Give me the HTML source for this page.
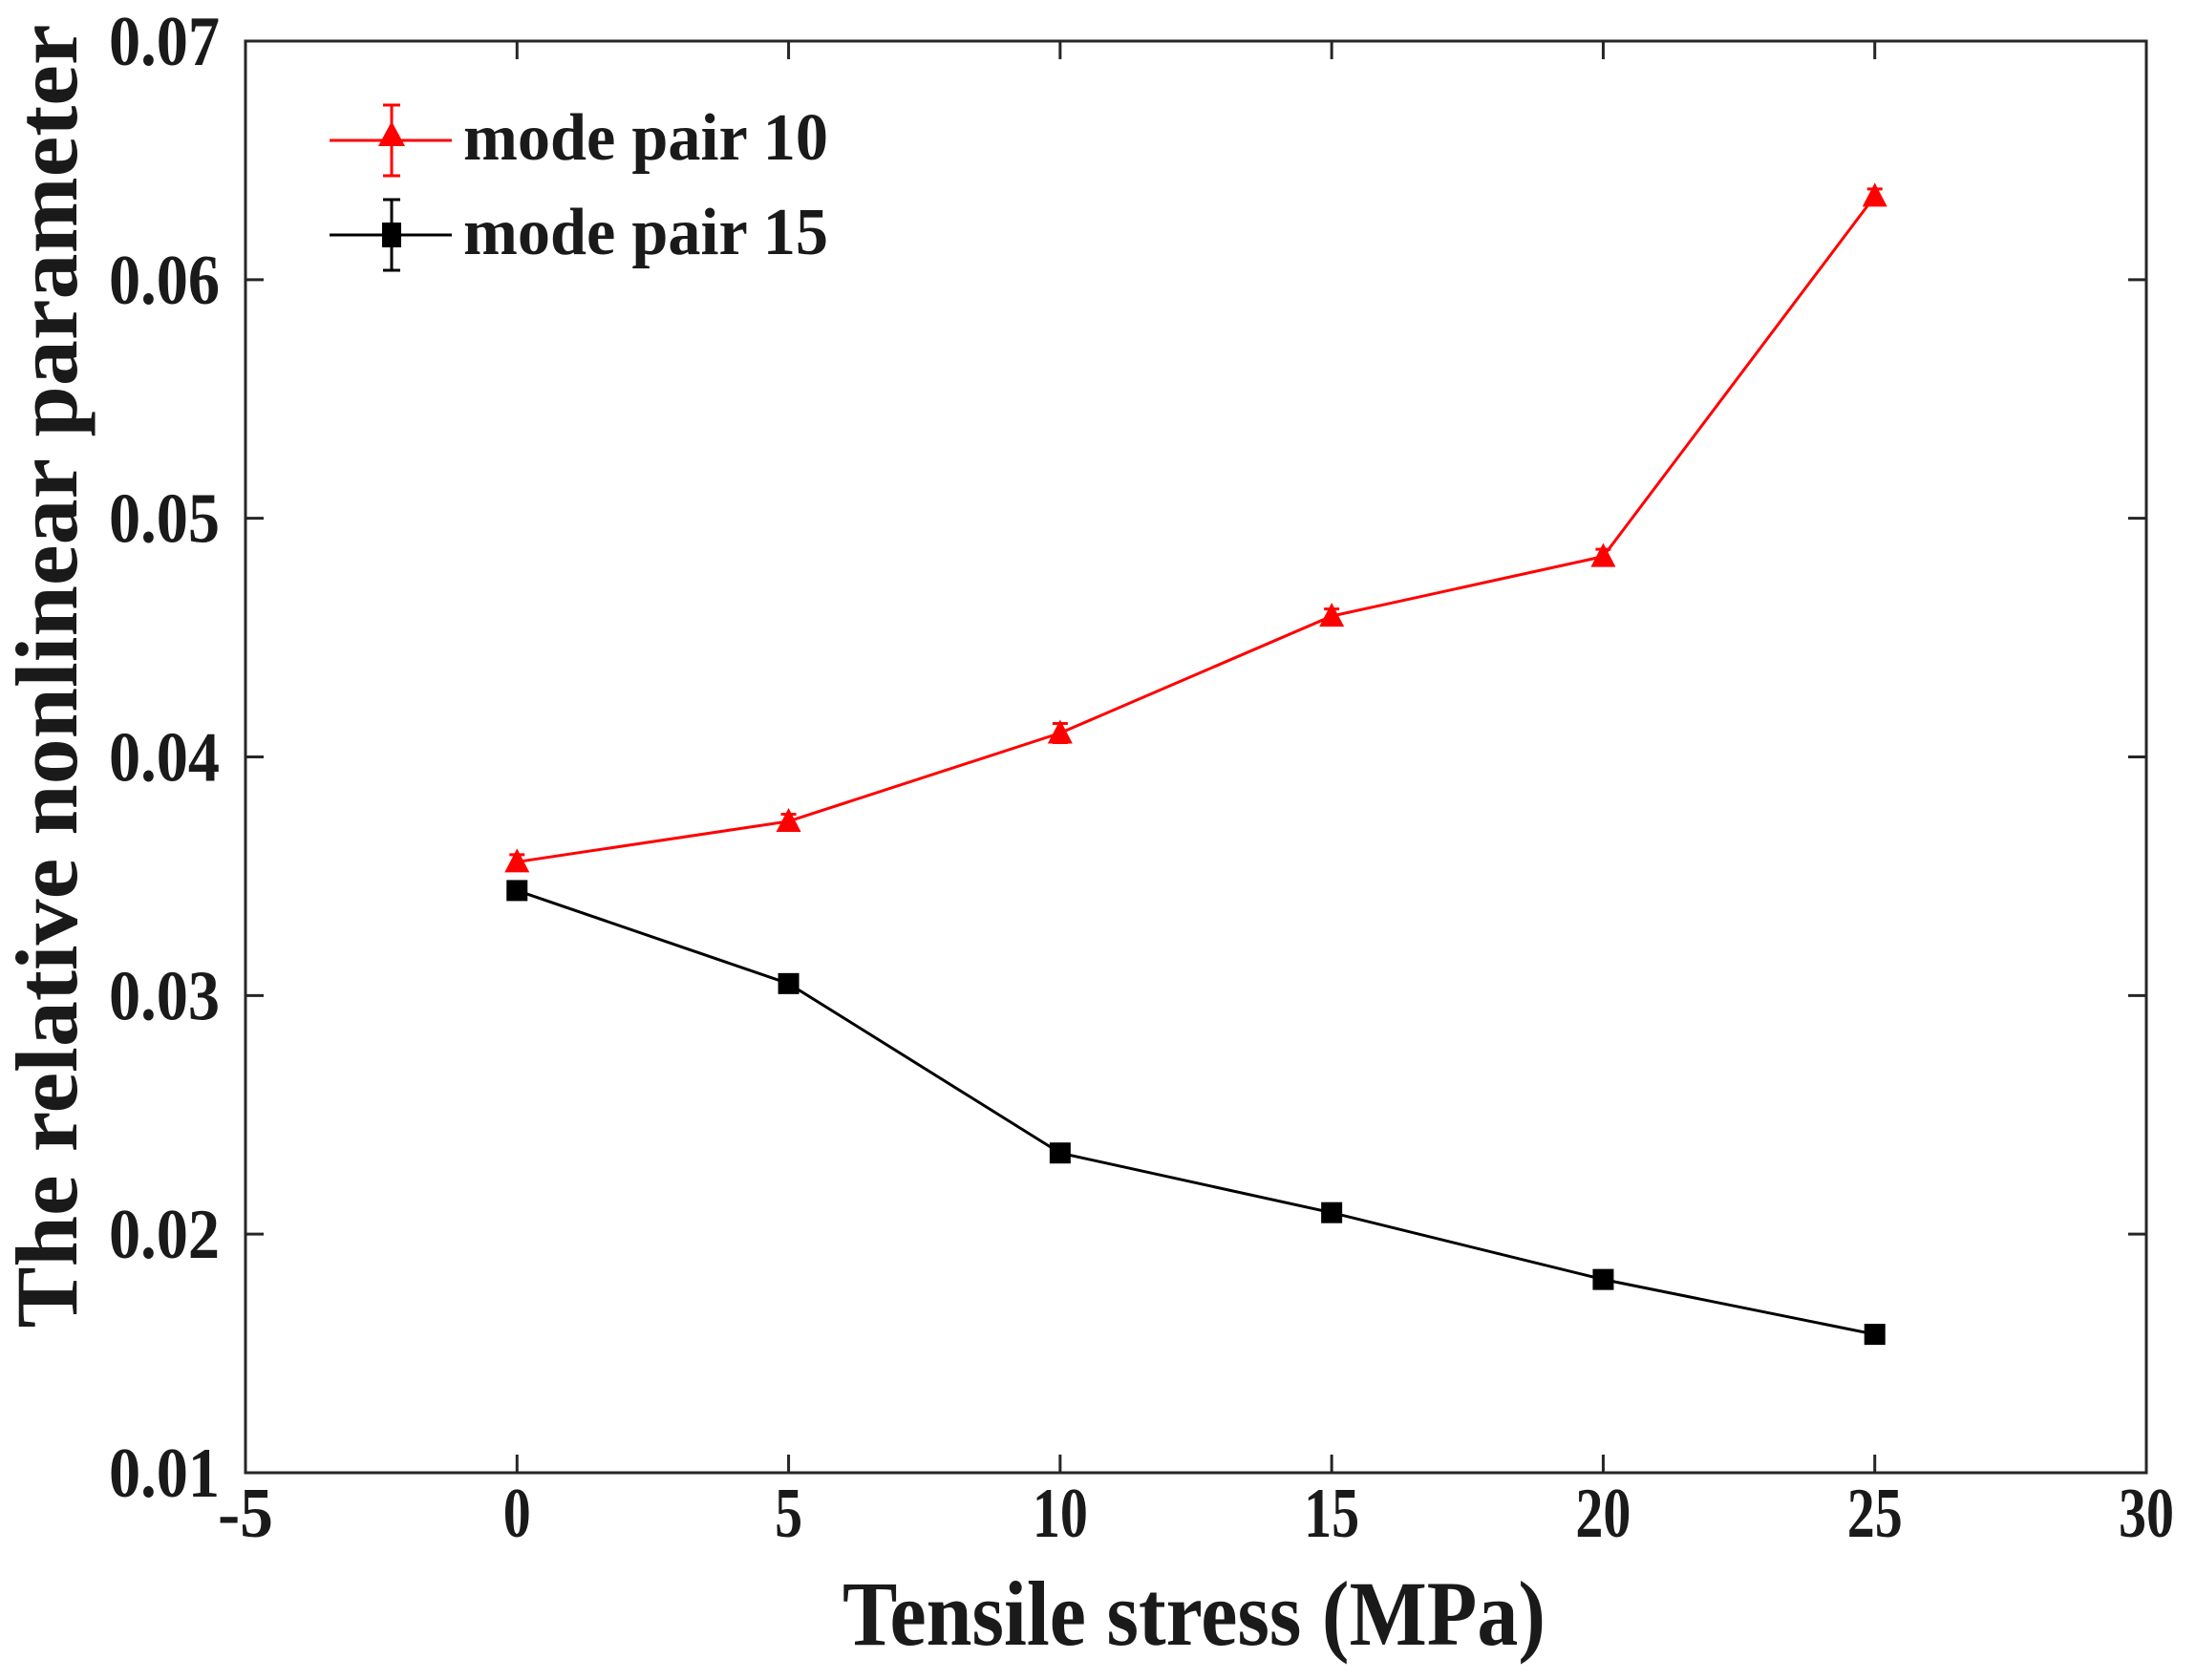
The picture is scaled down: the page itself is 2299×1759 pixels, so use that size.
<!DOCTYPE html>
<html><head><meta charset="utf-8"><style>
html,body{margin:0;padding:0;background:#fff;}
svg{display:block;}
text{font-family:"Liberation Serif",serif;font-weight:bold;fill:#1a1a1a;}
</style></head><body>
<svg id="chart" width="2299" height="1759" viewBox="0 0 2299 1759">
<rect x="0" y="0" width="2299" height="1759" fill="#fff"/>
<g id="plot"></g>
</svg>
<script>
const xCategories = [0, 5, 10, 15, 20, 25];
const seriesRed = [0.0356, 0.0373, 0.0410, 0.0459, 0.0484, 0.0635];
const seriesRedErr = [0.0003, 0.0003, 0.0004, 0.0003, 0.0003, 0.0003];
const seriesBlack = [0.0344, 0.0305, 0.0234, 0.0209, 0.0181, 0.0158];
const seriesBlackErr = [0.0002, 0.0002, 0.0002, 0.0002, 0.0002, 0.0002];
const xTicks = [-5, 0, 5, 10, 15, 20, 25, 30];
const yTicks = [0.01, 0.02, 0.03, 0.04, 0.05, 0.06, 0.07];
const yTickLabels = ["0.01","0.02","0.03","0.04","0.05","0.06","0.07"];

const L=257,R=2247,T=43,B=1542;
const xMin=-5,xMax=30,yMin=0.01,yMax=0.07;
function sx(v){return L+(v-xMin)/(xMax-xMin)*(R-L);}
function sy(v){return B-(v-yMin)/(yMax-yMin)*(B-T);}
const NS="http://www.w3.org/2000/svg";
const g=document.getElementById('plot');
function mk(tag,attrs,parent){const e=document.createElementNS(NS,tag);for(const k in attrs)e.setAttribute(k,attrs[k]);(parent||g).appendChild(e);return e;}

const box=mk('rect',{x:L,y:T,width:R-L,height:B-T,fill:'none',stroke:'#262626','stroke-width':3});



xTicks.forEach(v=>{
  const x=sx(v);
  const t1=mk('line',{x1:x,y1:B,x2:x,y2:B-19,stroke:'#262626','stroke-width':3});
  
  
  const t2=mk('line',{x1:x,y1:T,x2:x,y2:T+19,stroke:'#262626','stroke-width':3});
  
  
  const s=String(v);
  const lb=mk('text',{x:x,y:1609,'text-anchor':'middle','font-size':74,textLength:s.length*29,lengthAdjust:'spacingAndGlyphs'});
  lb.textContent=s;
  
  
});
yTicks.forEach((v,i)=>{
  const y=sy(v);
  const t1=mk('line',{x1:L,y1:y,x2:L+19,y2:y,stroke:'#262626','stroke-width':3});
  
  
  const t2=mk('line',{x1:R,y1:y,x2:R-19,y2:y,stroke:'#262626','stroke-width':3});
  
  
  const lb=mk('text',{x:230,y:y+25,'text-anchor':'end','font-size':74,textLength:116,lengthAdjust:'spacingAndGlyphs'});
  lb.textContent=yTickLabels[i];
  
  
});

const xt=mk('text',{x:1250,y:1722,'text-anchor':'middle','font-size':96,textLength:736,lengthAdjust:'spacingAndGlyphs'});
xt.textContent='Tensile stress (MPa)';


const yt=mk('text',{x:0,y:0,'text-anchor':'middle','font-size':92,textLength:1365,lengthAdjust:'spacingAndGlyphs',transform:'translate(80,708) rotate(-90)'});
yt.textContent='The relative nonlinear parameter';



function drawSeries(vals,errs,color,shape,name){
  const sg=mk('g',{});
  
  
  const pts=xCategories.map((c,i)=>sx(c)+','+sy(vals[i])).join(' ');
  const pl=mk('polyline',{points:pts,fill:'none',stroke:color,'stroke-width':3},sg);
  
  
  xCategories.forEach((c,i)=>{
    const x=sx(c),y=sy(vals[i]),y1=sy(vals[i]+errs[i]),y2=sy(vals[i]-errs[i]);
    const eb=mk('path',{d:`M${x},${y1}V${y2}M${x-8},${y1}H${x+8}M${x-8},${y2}H${x+8}`,stroke:color,'stroke-width':3,fill:'none'},sg);
    
    
    let m;
    if(shape==='tri') m=mk('polygon',{points:`${x},${y-14} ${x-13},${y+11} ${x+13},${y+11}`,fill:color},sg);
    else m=mk('rect',{x:x-11,y:y-11,width:22,height:22,fill:color},sg);
    
    
  });
}
drawSeries(seriesRed,seriesRedErr,'#ff0000','tri','series-mode-pair-10');
drawSeries(seriesBlack,seriesBlackErr,'#000000','sq','series-mode-pair-15');

const lg=mk('g',{});


function legendEntry(y,color,shape,label){
  const e=mk('g',{},lg);
  
  
  mk('line',{x1:345,y1:y,x2:473,y2:y,stroke:color,'stroke-width':3},e);
  mk('path',{d:`M410,${y-37}V${y+37}M401,${y-37}H419M401,${y+37}H419`,stroke:color,'stroke-width':3,fill:'none'},e);
  if(shape==='tri') mk('polygon',{points:`410,${y-20} 396,${y+6} 424,${y+6}`,fill:color},e);
  else mk('rect',{x:400,y:y-13,width:20,height:26,fill:color},e);
  const t=mk('text',{x:485,y:y+20,'font-size':70,textLength:382,lengthAdjust:'spacingAndGlyphs'},e);
  t.textContent=label;
}
legendEntry(147,'#ff0000','tri','mode pair 10');
legendEntry(246,'#000000','sq','mode pair 15');
</script>
</body></html>
